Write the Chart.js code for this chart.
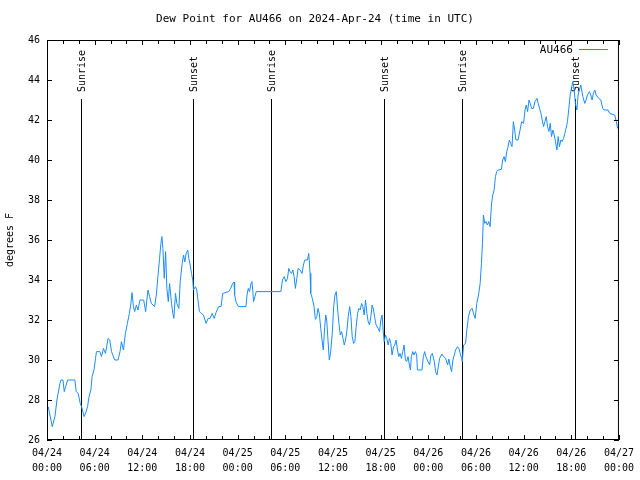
<!DOCTYPE html>
<html>
<head>
<meta charset="utf-8">
<script src="https://cdn.jsdelivr.net/npm/chart.js@4"></script>
<style>
  body { margin: 0; background: #fff; }
  canvas { display: block; }
</style>
</head>
<body>
<canvas id="myChart" width="640" height="480"></canvas>
<script>
const titleText = "Dew Point for AU466 on 2024-Apr-24 (time in UTC)";
const seriesName = "AU466";

// hours since 04/24 00:00 UTC
const hoursUtc = [
  0.16, 0.66, 1.00, 1.25, 1.63, 1.76, 2.01, 2.17, 2.35, 2.60, 3.51, 3.68, 3.93, 4.18, 4.35, 4.68,
  4.93, 5.11, 5.27, 5.52, 5.68, 5.93, 6.11, 6.23, 6.65, 6.86, 7.11, 7.36, 7.69, 7.90, 8.12, 8.53,
  8.94, 9.19, 9.37, 9.62, 9.87, 10.12, 10.37, 10.54, 10.70, 10.88, 11.04, 11.25, 11.45, 11.70, 12.17, 12.42,
  12.71, 12.92, 13.13, 13.55, 13.76, 13.96, 14.17, 14.34, 14.46, 14.59, 14.76, 14.93, 15.09, 15.27, 15.43, 15.68,
  15.84, 15.97, 16.18, 16.34, 16.60, 16.77, 17.02, 17.19, 17.35, 17.52, 17.72, 17.85, 18.03, 18.19, 18.35, 18.44,
  18.69, 18.85, 19.03, 19.19, 19.41, 19.69, 20.03, 20.28, 20.53, 20.79, 21.04, 21.29, 21.61, 21.91, 22.12, 22.87,
  23.12, 23.37, 23.55, 23.62, 23.80, 24.08, 25.05, 25.18, 25.34, 25.50, 25.68, 25.80, 25.93, 26.00, 26.18, 26.34,
  29.44, 29.64, 29.86, 30.07, 30.27, 30.44, 30.61, 30.77, 30.95, 31.11, 31.27, 31.45, 31.61, 31.86, 32.11, 32.28,
  32.45, 32.78, 32.95, 33.12, 33.20, 33.40, 33.62, 33.78, 33.96, 34.12, 34.28, 34.46, 34.62, 34.78, 34.96, 35.09,
  35.21, 35.37, 35.54, 35.71, 35.91, 36.09, 36.25, 36.42, 36.59, 36.75, 36.92, 37.09, 37.26, 37.42, 37.59, 37.76,
  37.92, 38.10, 38.26, 38.42, 38.60, 38.76, 38.92, 39.10, 39.26, 39.43, 39.60, 39.76, 39.93, 40.10, 40.27, 40.43,
  40.60, 40.77, 40.93, 41.11, 41.27, 41.43, 41.68, 41.86, 42.02, 42.19, 42.31, 42.44, 42.61, 42.77, 42.94, 43.11,
  43.28, 43.44, 43.62, 43.78, 43.94, 44.12, 44.28, 44.44, 44.62, 44.78, 44.95, 45.12, 45.28, 45.45, 45.62, 45.75,
  45.87, 46.04, 46.20, 46.38, 46.54, 46.63, 47.20, 47.38, 47.54, 47.70, 47.96, 48.17, 48.33, 48.51, 48.76, 48.92,
  49.09, 49.26, 49.42, 49.71, 49.93, 50.18, 50.43, 50.59, 50.77, 50.93, 51.10, 51.27, 51.43, 51.68, 51.85, 52.02,
  52.19, 52.28, 52.44, 52.69, 52.85, 53.06, 53.28, 53.53, 53.69, 53.90, 54.10, 54.32, 54.53, 54.69, 54.82, 54.94,
  55.11, 55.28, 55.44, 55.61, 55.78, 55.95, 56.11, 56.29, 56.45, 56.61, 56.79, 57.20, 57.36, 57.54, 57.70, 57.87,
  58.04, 58.20, 58.37, 58.54, 58.71, 58.87, 59.04, 59.30, 59.55, 59.75, 60.00, 60.17, 60.33, 60.50, 60.68, 60.84,
  61.01, 61.22, 61.43, 61.68, 61.84, 62.00, 62.18, 62.34, 62.51, 62.68, 62.85, 63.01, 63.18, 63.35, 63.51, 63.69,
  63.85, 64.01, 64.19, 64.35, 64.51, 64.69, 64.85, 65.02, 65.19, 65.35, 65.52, 65.69, 65.86, 66.02, 66.19, 66.36,
  66.52, 66.70, 66.86, 67.02, 67.20, 67.45, 67.70, 67.86, 68.03, 68.28, 68.45, 68.62, 68.78, 68.96, 69.12, 69.46,
  69.71, 69.96, 70.12, 70.62, 70.84, 71.46, 71.67, 71.84
];

const dewPoint = [
  27.66, 26.67, 27.17, 28.00, 28.83, 29.00, 29.00, 28.42, 28.67, 29.00, 29.00, 28.42, 28.33, 27.83, 27.67, 27.17,
  27.42, 27.67, 28.13, 28.50, 29.17, 29.53, 30.08, 30.42, 30.42, 30.17, 30.58, 30.33, 31.08, 31.00, 30.42, 30.00,
  30.00, 30.42, 30.92, 30.50, 31.33, 31.83, 32.33, 32.75, 33.37, 32.67, 32.42, 32.75, 32.50, 33.00, 33.00, 32.42,
  33.50, 33.17, 32.83, 32.67, 33.25, 34.17, 35.08, 35.83, 36.17, 35.58, 34.08, 35.42, 33.58, 32.92, 33.83, 32.83,
  32.33, 32.08, 33.33, 32.83, 32.58, 33.92, 34.83, 35.25, 34.90, 35.33, 35.50, 35.08, 34.75, 34.33, 34.00, 33.50,
  33.67, 33.50, 32.92, 32.42, 32.33, 32.25, 31.83, 32.08, 32.08, 32.33, 32.08, 32.38, 32.67, 32.67, 33.33, 33.42,
  33.58, 33.83, 33.90, 33.25, 32.90, 32.67, 32.67, 33.25, 33.58, 33.42, 33.83, 33.92, 33.33, 32.92, 33.17, 33.42,
  33.42, 34.00, 34.17, 33.92, 34.08, 34.58, 34.42, 34.33, 34.50, 34.17, 33.58, 34.08, 34.58, 34.50, 34.33, 34.75,
  35.00, 35.00, 35.33, 34.33, 33.33, 33.08, 32.67, 32.03, 32.17, 32.58, 32.33, 31.58, 31.00, 30.50, 31.67, 32.25,
  32.00, 31.00, 30.00, 30.40, 31.33, 32.67, 33.25, 33.42, 32.50, 31.83, 31.25, 31.42, 31.08, 30.75, 31.00, 31.50,
  32.17, 32.67, 32.17, 31.17, 30.83, 30.92, 31.67, 32.33, 32.58, 32.50, 32.83, 32.67, 32.25, 33.00, 32.33, 31.92,
  31.75, 32.17, 32.75, 32.50, 32.08, 31.75, 31.58, 31.42, 32.00, 32.25, 31.50, 30.92, 31.25, 31.08, 30.75, 31.08,
  30.83, 30.25, 30.67, 30.75, 31.00, 30.50, 30.17, 30.33, 30.08, 30.42, 30.75, 30.00, 29.92, 30.17, 29.75, 29.50,
  30.17, 30.42, 30.25, 30.42, 30.25, 29.50, 29.50, 30.17, 30.42, 30.17, 29.92, 29.75, 30.25, 30.33, 29.92, 29.42,
  29.25, 29.67, 30.08, 30.30, 30.17, 30.08, 29.75, 30.05, 29.67, 29.42, 30.00, 30.25, 30.50, 30.67, 30.58, 30.33,
  30.08, 29.92, 30.75, 30.83, 31.50, 32.17, 32.50, 32.58, 32.33, 32.08, 32.83, 33.25, 33.83, 34.83, 35.83, 37.25,
  36.83, 36.92, 36.75, 36.92, 36.67, 37.75, 38.25, 38.50, 39.17, 39.42, 39.50, 39.53, 40.00, 40.17, 39.92, 40.42,
  40.67, 41.00, 40.83, 40.67, 41.92, 41.50, 41.00, 41.00, 41.50, 41.92, 41.83, 42.50, 42.75, 42.42, 43.00, 42.83,
  42.58, 42.58, 42.92, 43.08, 42.83, 42.58, 42.33, 42.00, 41.67, 41.92, 42.17, 41.67, 41.42, 41.83, 41.17, 41.50,
  41.25, 40.92, 40.50, 41.17, 40.67, 41.00, 40.92, 41.08, 41.33, 41.58, 41.92, 42.58, 43.25, 43.58, 43.92, 43.50,
  42.83, 42.50, 43.25, 43.50, 43.75, 43.17, 42.83, 43.00, 43.25, 43.42, 43.25, 43.00, 43.33, 43.50, 43.25, 43.08,
  43.00, 42.58, 42.50, 42.50, 42.33, 42.25, 41.92, 41.58
];

const sunEventHours = [4.30, 18.35, 28.26, 42.44, 52.22, 66.52];
const sunEventLabels = ["Sunrise", "Sunset", "Sunrise", "Sunset", "Sunrise", "Sunset"];

const yTicks = [26, 28, 30, 32, 34, 36, 38, 40, 42, 44, 46];
const xTickStep = 6;
const xMinorStep = 2;

const fontFamily = "'DejaVu Sans Mono', 'Liberation Mono', monospace";
const lineColor = "#1a8cff";

const points = hoursUtc.map((h, i) => ({ x: h, y: dewPoint[i] }));

function tickLabel(value) {
  const day = 24 + Math.floor(value / 24);
  const hh = ("0" + (value % 24)).slice(-2);
  return ["04/" + day, hh + ":00"];
}

const overlay = {
  id: "overlay",
  beforeDatasetsDraw(chart) {
    const ctx = chart.ctx;
    const area = chart.chartArea;
    const xs = chart.scales.x;
    ctx.save();
    ctx.strokeStyle = "#000";
    ctx.fillStyle = "#000";
    ctx.lineWidth = 1;
    ctx.font = "10px " + fontFamily;
    sunEventHours.forEach((h, i) => {
      const px = Math.round(xs.getPixelForValue(h)) + 0.5;
      ctx.beginPath();
      ctx.moveTo(px, area.top + 59);
      ctx.lineTo(px, area.bottom);
      ctx.stroke();
      ctx.save();
      ctx.translate(px + 1, area.top + 52);
      ctx.rotate(-Math.PI / 2);
      ctx.textAlign = "left";
      ctx.textBaseline = "middle";
      ctx.fillText(sunEventLabels[i], 0, 0);
      ctx.restore();
    });
    ctx.restore();
  },
  afterDraw(chart) {
    const ctx = chart.ctx;
    const area = chart.chartArea;
    const xs = chart.scales.x;
    const ys = chart.scales.y;
    ctx.save();
    ctx.strokeStyle = "#000";
    ctx.lineWidth = 1;

    // frame
    ctx.strokeRect(area.left + 0.5, area.top + 0.5, area.right - area.left - 1, area.bottom - area.top - 1);

    // inward ticks, mirrored
    ctx.beginPath();
    yTicks.forEach((v) => {
      const py = Math.round(ys.getPixelForValue(v)) + 0.5;
      ctx.moveTo(area.left, py); ctx.lineTo(area.left + 5, py);
      ctx.moveTo(area.right, py); ctx.lineTo(area.right - 5, py);
    });
    for (let h = 0; h <= 72; h += xMinorStep) {
      const px = Math.round(xs.getPixelForValue(h)) + 0.5;
      const len = h % xTickStep === 0 ? 5 : 4;
      ctx.moveTo(px, area.bottom); ctx.lineTo(px, area.bottom - len);
      ctx.moveTo(px, area.top); ctx.lineTo(px, area.top + len);
    }
    ctx.stroke();

    // title
    ctx.fillStyle = "#000";
    ctx.font = "11px " + fontFamily;
    ctx.textAlign = "center";
    ctx.textBaseline = "middle";
    ctx.fillText(titleText, 315, 19);

    // key
    ctx.font = "11px " + fontFamily;
    ctx.textAlign = "right";
    ctx.fillText(seriesName, area.right - 46, area.top + 10);
    ctx.strokeStyle = lineColor;
    ctx.beginPath();
    ctx.moveTo(area.right - 40, area.top + 9.5);
    ctx.lineTo(area.right - 11, area.top + 9.5);
    ctx.stroke();
    ctx.restore();
  }
};

new Chart("myChart", {
  type: "line",
  data: {
    datasets: [
      {
        label: seriesName,
        data: points,
        borderColor: lineColor,
        borderWidth: 1,
        pointRadius: 0,
        tension: 0,
        fill: false,
      },
    ],
  },
  options: {
    responsive: false,
    animation: false,
    devicePixelRatio: 1,
    layout: { padding: { top: 40, right: 19, left: 0, bottom: 0 } },
    plugins: {
      legend: { display: false },
      title: { display: false },
      tooltip: { enabled: false },
    },
    scales: {
      x: {
        type: "linear",
        min: 0,
        max: 72,
        border: { display: false },
        grid: { display: false, drawTicks: false },
        ticks: {
          stepSize: xTickStep,
          autoSkip: false,
          maxRotation: 0,
          padding: 6,
          color: "#000",
          font: { family: fontFamily, size: 10, lineHeight: 1.5 },
          callback: (v) => tickLabel(v),
        },
        afterFit: (s) => { s.height = 40; },
      },
      y: {
        min: 26,
        max: 46,
        border: { display: false },
        grid: { display: false, drawTicks: false },
        ticks: {
          stepSize: 2,
          padding: 7,
          color: "#000",
          font: { family: fontFamily, size: 10 },
        },
        title: {
          display: true,
          text: "degrees F",
          color: "#000",
          padding: { top: 4, bottom: 0 },
          font: { family: fontFamily, size: 10, lineHeight: 1.2 },
        },
        afterFit: (s) => { s.width = 47; },
      },
    },
  },
  plugins: [overlay],
});
</script>
</body>
</html>
